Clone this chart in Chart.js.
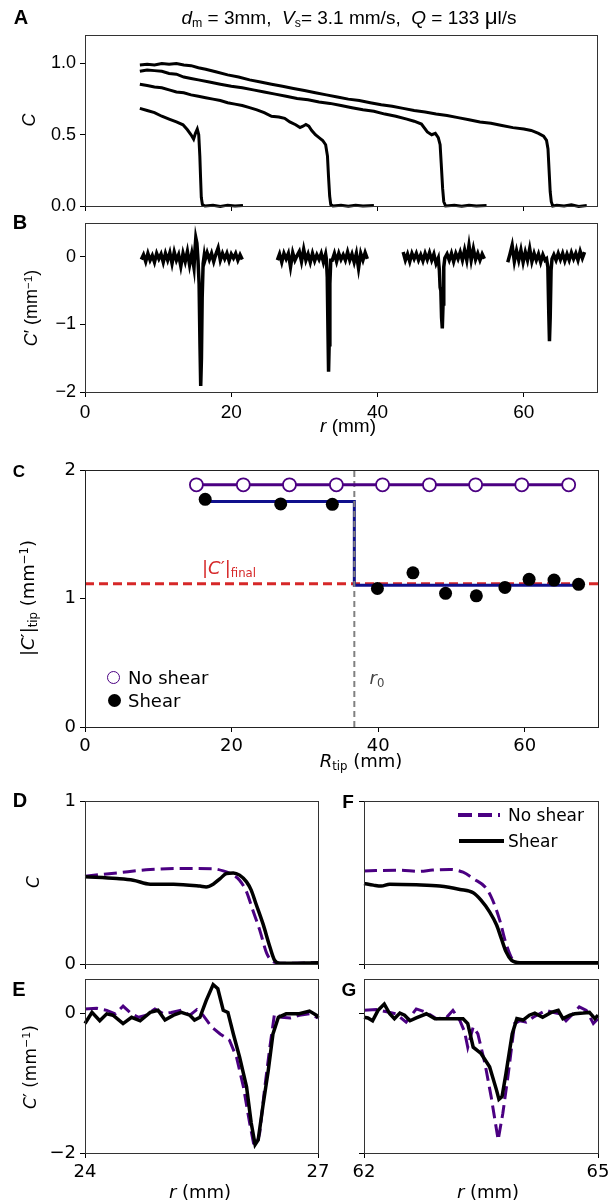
<!DOCTYPE html>
<html>
<head>
<meta charset="utf-8">
<script src="https://cdn.jsdelivr.net/npm/chart.js@4.4.1/dist/chart.umd.min.js"></script>
<style>
  body { margin:0; background:#fff; width:611px; height:1202px; position:relative; overflow:hidden; }
  canvas { position:absolute; }
  .t { position:absolute; white-space:nowrap; line-height:1; transform:translate(-50%,-50%); color:#000; }
  .t.rot { transform:translate(-50%,-50%) rotate(-90deg); }
  .t.left { transform:translate(0,-50%); }
  .arial { font-family:"Liberation Sans", Arial, sans-serif; }
  .dv { font-family:"DejaVu Sans", sans-serif; }
  .lt { font-weight:bold; font-family:"Liberation Sans", Arial, sans-serif; }
  sub { font-size:65%; vertical-align:-0.25em; }
  sup { font-size:65%; vertical-align:0.5em; }
  .swatch { position:absolute; }
</style>
</head>
<body>
<script>
// ---------- data ----------
const rTicks = [0, 20, 40, 60];

// A: C(r) at four times (top trace = latest)
const traceA1 = [[7.5,0.99],[8.5,0.995],[9.5,0.99],[10.5,1.0],[11.5,0.995],[12.5,1.0],[13.5,0.99],[14.5,0.985],[15.5,0.97],[16.5,0.96],[18,0.94],[19.5,0.92],[21,0.905],[22.5,0.885],[24,0.87],[25.5,0.855],[27,0.84],[28.5,0.825],[30,0.81],[31.5,0.795],[33,0.78],[34.5,0.765],[36,0.75],[37.5,0.74],[39,0.725],[40.5,0.71],[42,0.7],[43.5,0.685],[45,0.67],[46.5,0.66],[48,0.645],[49.5,0.635],[51,0.62],[52.5,0.605],[54,0.59],[55.5,0.58],[57,0.565],[58.5,0.55],[60,0.54],[61,0.53],[62,0.51],[62.7,0.49],[63.1,0.46],[63.3,0.4],[63.45,0.25],[63.6,0.1],[63.75,0.03],[63.95,0.0],[64.5,0.005],[65.5,0.0],[66.5,0.008],[67.5,-0.003],[68.6,0.003]];
const traceA2 = [[7.5,0.945],[8.5,0.955],[9.5,0.95],[10.5,0.945],[11.5,0.93],[12.5,0.925],[13.5,0.905],[14.5,0.895],[15.5,0.885],[17,0.87],[18.5,0.855],[20,0.84],[21.5,0.83],[23,0.815],[24.5,0.8],[26,0.785],[27.5,0.77],[29,0.755],[30.5,0.745],[32,0.73],[33.5,0.72],[35,0.705],[36.5,0.69],[38,0.675],[39.5,0.665],[41,0.645],[42.5,0.63],[44,0.61],[45,0.595],[46,0.575],[46.8,0.52],[47.4,0.5],[47.9,0.51],[48.3,0.48],[48.55,0.43],[48.7,0.3],[48.9,0.12],[49.05,0.03],[49.3,0.0],[50.5,0.005],[51.5,-0.002],[52.5,0.006],[53.5,0.0],[54.9,0.003]];
const traceA3 = [[7.5,0.855],[8.5,0.845],[9.5,0.835],[10.5,0.83],[11.5,0.815],[12.5,0.8],[13.5,0.795],[14.5,0.78],[15.5,0.77],[16.5,0.76],[17.5,0.75],[18.5,0.74],[19.5,0.725],[20.5,0.715],[21.5,0.705],[22.5,0.69],[23.5,0.675],[24.5,0.655],[25.5,0.63],[26.5,0.625],[27.3,0.615],[28,0.59],[28.8,0.57],[29.4,0.55],[29.8,0.56],[30.2,0.572],[30.6,0.56],[31,0.53],[31.5,0.5],[32,0.48],[32.5,0.46],[32.9,0.43],[33.15,0.35],[33.3,0.2],[33.45,0.07],[33.6,0.01],[33.9,0.0],[35,0.005],[36,-0.002],[37,0.006],[38,0.0],[39.5,0.003]];
const traceA4 = [[7.5,0.685],[8.5,0.67],[9.5,0.655],[10.5,0.63],[11.5,0.61],[12.5,0.59],[13.4,0.57],[14,0.535],[14.5,0.5],[14.85,0.47],[15.1,0.51],[15.35,0.54],[15.55,0.5],[15.7,0.35],[15.8,0.2],[15.9,0.06],[16.05,0.01],[16.4,0.0],[17.5,0.005],[18.5,-0.003],[19.5,0.006],[20.5,0.0],[21.6,0.004]];

// B: C'(r) segments, sampled every 0.3 mm, front spikes resolved finer
const dB = 0.3;
const bStart = [7.7, 26.3, 43.5, 57.8];
const bNoise1 = [-0.04,0.03,-0.07,0.05,-0.05,0.02,-0.08,0.05,-0.03,0.04,-0.08,0.05,-0.05,0.06,-0.10,0.07,-0.05,0.03,-0.14,0.05,-0.07,0.08,-0.12,0.05,-0.16,0.02,-0.02,0.03,-0.04,-0.05,0.06,-0.04,0.05,-0.07,0.04,0.13,-0.05,0.05,-0.03,0.05,-0.06,0.04,-0.02,0.05,-0.05,0.03,-0.04];
const bNoise2 = [-0.05,0.04,-0.08,0.05,-0.03,0.05,-0.15,0.06,-0.05,0.02,0.08,-0.07,0.11,-0.05,0.04,-0.08,0.05,-0.06,0.03,-0.04,0.05,-0.08,0.04,-0.03,0,-0.05,0.05,-0.07,0.05,-0.04,0.03,-0.05,0.07,-0.05,0.04,-0.08,0.05,-0.17,0.05,-0.05,0.06,-0.03];
const bNoise3 = [0.07,-0.05,0.04,-0.07,0.05,-0.03,0.05,-0.05,0.03,-0.06,0.05,-0.04,0.06,-0.05,0.04,-0.10,0.03,-0.05,-0.05,-0.05,0.04,-0.05,0.05,-0.07,0.05,-0.03,0.07,-0.05,0.10,-0.05,0.17,-0.05,0.12,-0.04,0.05,-0.05,0.04,-0.03];
const bNoise4 = [-0.08,0.04,0.17,-0.07,0.09,-0.05,0.10,-0.08,0.07,-0.05,0.12,-0.07,0.05,-0.05,0.04,-0.08,0.03,-0.05,-0.04,0,-0.05,0.03,-0.05,0.05,-0.04,0.05,-0.06,0.04,-0.05,0.06,-0.03,0.05,-0.05,0.08,-0.02,0.07];
const bSpike1 = [[15.0,0.05],[15.15,0.28],[15.3,0.2],[15.45,-0.05],[15.6,-0.4],[15.72,-1.3],[15.82,-1.91],[15.92,-1.5],[16.02,-0.6],[16.15,-0.1],[16.3,0.02]];
const bSpike2 = [[33.0,-0.03],[33.12,-0.3],[33.22,-1.1],[33.3,-1.70],[33.38,-1.3],[33.48,-0.4],[33.6,-0.05]];
const bSpike3 = [[48.3,-0.02],[48.45,-0.2],[48.55,-0.45],[48.65,-0.5],[48.75,-0.9],[48.85,-1.06],[48.95,-0.7],[49.05,-0.15],[49.2,-0.02]];
const bSpike4 = [[63.1,-0.03],[63.28,-0.15],[63.4,-0.8],[63.5,-1.25],[63.6,-0.9],[63.72,-0.2],[63.85,-0.03]];

// C: |C'| at the tip vs tip position
const noShearR = [15.2, 21.6, 27.9, 34.3, 40.6, 47.0, 53.3, 59.6, 66.0];
const noShearC = [1.885, 1.885, 1.885, 1.885, 1.885, 1.885, 1.885, 1.885, 1.885];
const shearR = [16.4, 26.7, 33.75, 39.9, 44.75, 49.2, 53.4, 57.3, 60.6, 64.0, 67.35];
const shearC = [1.772, 1.736, 1.733, 1.078, 1.2, 1.04, 1.021, 1.086, 1.149, 1.143, 1.11];
const stepR = [16.4, 36.75, 67.4];
const stepC = [1.754, 1.104, 1.104];
const r0 = 36.75;
const cFinal = 1.115;

// D/E: front near r = 25 mm ; F/G: front near r = 63 mm
const dNoShear = [[24.0,0.539],[24.41,0.559],[24.84,0.58],[25.26,0.586],[25.65,0.584],[25.78,0.571],[25.91,0.545],[25.99,0.514],[26.08,0.443],[26.16,0.331],[26.25,0.208],[26.34,0.065],[26.42,0.014],[26.51,0.004],[27.0,0.008]];
const dShear = [[24.0,0.535],[24.41,0.524],[24.62,0.514],[24.84,0.49],[25.14,0.49],[25.48,0.478],[25.56,0.473],[25.65,0.49],[25.74,0.524],[25.82,0.555],[25.91,0.559],[25.99,0.545],[26.08,0.504],[26.14,0.453],[26.2,0.371],[26.29,0.249],[26.38,0.106],[26.44,0.024],[26.51,0.004],[27.0,0.008]];
const eNoShear = [[24.0,0.07],[24.15,0.08],[24.28,0.05],[24.39,0],[24.49,0.11],[24.6,0],[24.69,-0.05],[24.79,-0.02],[24.9,0.07],[25.01,0],[25.11,0.02],[25.24,0.05],[25.35,-0.02],[25.44,0.06],[25.52,-0.02],[25.63,-0.19],[25.74,-0.29],[25.86,-0.38],[25.95,-0.62],[26.04,-1.05],[26.12,-1.57],[26.17,-1.86],[26.21,-1.88],[26.25,-1.71],[26.31,-1.1],[26.38,-0.48],[26.44,0],[26.53,-0.05],[26.64,-0.06],[26.76,-0.02],[26.89,0],[27.0,-0.06]];
const eShear = [[24.0,-0.14],[24.09,0.02],[24.19,-0.1],[24.28,0],[24.36,-0.02],[24.49,-0.14],[24.6,-0.05],[24.71,-0.1],[24.84,0.02],[24.94,0.05],[25.03,-0.09],[25.14,-0.02],[25.24,0.02],[25.35,-0.02],[25.41,-0.09],[25.48,-0.05],[25.56,0.19],[25.65,0.42],[25.71,0.36],[25.78,0.05],[25.84,0.02],[25.91,-0.29],[25.99,-0.62],[26.08,-1.05],[26.14,-1.57],[26.19,-1.88],[26.23,-1.81],[26.29,-1.33],[26.36,-0.81],[26.42,-0.29],[26.49,-0.05],[26.59,0],[26.76,0],[26.89,0.04],[26.98,-0.02],[27.0,-0.06]];
const fNoShear = [[62.0,0.571],[62.46,0.576],[62.7,0.568],[62.88,0.576],[63.1,0.58],[63.27,0.563],[63.4,0.524],[63.57,0.463],[63.65,0.391],[63.74,0.269],[63.82,0.127],[63.91,0.024],[64.0,0.006],[65.0,0.006]];
const fShear = [[62.0,0.494],[62.12,0.484],[62.22,0.478],[62.33,0.49],[62.67,0.486],[62.97,0.478],[63.23,0.457],[63.4,0.437],[63.5,0.392],[63.61,0.32],[63.7,0.239],[63.76,0.157],[63.82,0.076],[63.89,0.024],[64.0,0.008],[65.0,0.008]];
const gNoShear = [[62.0,0.05],[62.16,0.06],[62.29,0.03],[62.41,0],[62.54,-0.12],[62.67,0.07],[62.8,0.02],[62.93,-0.07],[63.06,-0.05],[63.14,0.05],[63.23,-0.1],[63.29,-0.26],[63.33,-0.48],[63.4,-0.19],[63.46,-0.29],[63.55,-0.71],[63.63,-1.19],[63.72,-1.81],[63.78,-1.43],[63.85,-0.86],[63.93,-0.14],[64.0,-0.1],[64.08,-0.12],[64.17,-0.05],[64.25,0],[64.34,0.05],[64.42,0.02],[64.51,0],[64.59,-0.1],[64.68,0],[64.76,0.1],[64.85,0.05],[64.94,-0.14],[65.0,-0.07]];
const gShear = [[62.0,-0.05],[62.05,-0.06],[62.11,-0.1],[62.18,0.05],[62.26,0.14],[62.33,0],[62.39,-0.07],[62.46,0.01],[62.52,-0.02],[62.59,-0.1],[62.67,-0.06],[62.8,0],[62.91,-0.07],[63.14,-0.07],[63.27,-0.07],[63.33,-0.14],[63.4,-0.48],[63.5,-0.57],[63.61,-0.76],[63.7,-1.1],[63.73,-1.23],[63.77,-1.19],[63.82,-0.86],[63.9,-0.29],[63.96,-0.07],[64.04,-0.09],[64.12,-0.02],[64.19,0.01],[64.29,-0.05],[64.4,0.02],[64.49,0.05],[64.55,-0.07],[64.64,-0.02],[64.7,0],[64.81,0.01],[64.89,0.02],[64.96,-0.07],[65.0,-0.02]];

const PURPLE = '#4b0082';
const NAVY = '#10108c';
const RED = '#d62728';

// ---------- helpers ----------
const pairs = arr => arr.map(([x, y]) => ({x, y}));
const zip = (xs, ys) => xs.map((x, i) => ({x, y: ys[i]}));

function mergeSeg(start, vals, spike) {
  const lo = spike[0][0], hi = spike[spike.length - 1][0];
  const pts = vals.map((v, i) => ({x: +(start + i * dB).toFixed(2), y: v}))
                  .filter(p => p.x < lo || p.x > hi);
  spike.forEach(([x, y]) => pts.push({x, y}));
  return pts.sort((a, b) => a.x - b.x);
}

const minusFmt = v => v < 0 ? '\u2212' + Math.abs(v) : String(v);

const framePlugin = {
  id: 'frame',
  afterDatasetsDraw(chart, args, opts) {
    const {ctx, chartArea: a} = chart;
    ctx.save();
    ctx.strokeStyle = opts.color || '#222';
    ctx.lineWidth = 1;
    ctx.strokeRect(Math.round(a.left) + 0.5, Math.round(a.top) + 0.5,
                   Math.round(a.right - a.left), Math.round(a.bottom - a.top));
    ctx.restore();
  }
};
Chart.register(framePlugin);

const PAD_L = 70, PAD_B = 45, PAD_T = 16, PAD_R = 26;

function axis(min, max, ticks, font, showLabels, fmt, isX) {
  return {
    type: 'linear', min, max,
    afterBuildTicks: s => { s.ticks = ticks.map(v => ({value: v})); },
    afterFit: s => { if (isX) s.height = PAD_B; else s.width = PAD_L; },
    grid: { drawOnChartArea: false, drawTicks: true, tickLength: 5, color: '#000', lineWidth: 1 },
    border: { display: false },
    ticks: { display: showLabels, color: '#000', font, padding: 4, maxRotation: 0,
             callback: fmt || (v => String(v)) }
  };
}

// area = [left, top, right, bottom] of the plot box
function panel(area, datasets, xs, ys, frameColor) {
  const c = document.createElement('canvas');
  c.width = area[2] - area[0] + PAD_L + PAD_R;
  c.height = area[3] - area[1] + PAD_T + PAD_B;
  c.style.left = (area[0] - PAD_L) + 'px';
  c.style.top = (area[1] - PAD_T) + 'px';
  document.body.appendChild(c);
  return new Chart(c, {
    type: 'scatter',
    data: { datasets },
    options: {
      responsive: false, animation: false, events: [],
      layout: { padding: { left: 0, top: PAD_T, right: PAD_R, bottom: 0 } },
      plugins: { legend: { display: false }, tooltip: { enabled: false }, frame: { color: frameColor } },
      scales: { x: xs, y: ys }
    }
  });
}

function line(data, color, width, extra) {
  return Object.assign({ data, showLine: true, borderColor: color, borderWidth: width,
    pointRadius: 0, tension: 0, clip: false }, extra || {});
}

function text(html, x, y, cls, size, color) {
  const d = document.createElement('div');
  d.className = 't ' + cls;
  d.innerHTML = html;
  d.style.left = x + 'px';
  d.style.top = y + 'px';
  d.style.fontSize = size + 'px';
  if (color) d.style.color = color;
  document.body.appendChild(d);
}

const arialTick = { family: '"Liberation Sans", Arial, sans-serif', size: 18 };
const dvTickL = { family: '"DejaVu Sans", sans-serif', size: 18 };

// ---------- A ----------
panel([85, 35, 597, 206],
  [traceA1, traceA2, traceA3, traceA4].map(t => line(pairs(t), '#000', 3)),
  axis(0, 70, rTicks, arialTick, false, null, true),
  axis(0, 1.2, [0, 0.5, 1.0], arialTick, true, v => v.toFixed(1), false),
  '#333');

// ---------- B ----------
panel([85, 223, 597, 392],
  [mergeSeg(bStart[0], bNoise1, bSpike1), mergeSeg(bStart[1], bNoise2, bSpike2),
   mergeSeg(bStart[2], bNoise3, bSpike3), mergeSeg(bStart[3], bNoise4, bSpike4)]
    .map(s => line(s, '#000', 3.5)),
  axis(0, 70, rTicks, { family: arialTick.family, size: 19 }, true, null, true),
  axis(-2, 0.5, [-2, -1, 0], arialTick, true, minusFmt, false),
  '#333');

// ---------- C ----------
panel([85, 470, 598, 727],
  [
    { data: zip(shearR, shearC), showLine: false, pointRadius: 6.5, pointBackgroundColor: '#000',
      pointBorderColor: '#000', pointBorderWidth: 0, clip: false },
    line(zip(noShearR, noShearC), PURPLE, 3, { pointRadius: 6.5, pointBackgroundColor: '#fff',
      pointBorderColor: PURPLE, pointBorderWidth: 1.8 }),
    line([{x: r0, y: 0}, {x: r0, y: 2}], '#808080', 2, { borderDash: [6, 4] }),
    line(zip(stepR, stepC), NAVY, 3, { stepped: true }),
    line([{x: 0, y: cFinal}, {x: 70, y: cFinal}], RED, 3, { borderDash: [9, 5] })
  ],
  axis(0, 70, rTicks, dvTickL, true, null, true),
  axis(0, 2, [0, 1, 2], dvTickL, true, null, false),
  '#222');

// ---------- D / E ----------
panel([85, 801, 318, 964],
  [line(pairs(dShear), '#000', 3.5, { cubicInterpolationMode: 'monotone' }),
   line(pairs(dNoShear), PURPLE, 3, { borderDash: [13, 6], cubicInterpolationMode: 'monotone' })],
  axis(24, 27, [24, 27], dvTickL, false, null, true),
  axis(0, 1, [0, 1], dvTickL, true, null, false),
  '#333');
panel([85, 979, 318, 1153],
  [line(pairs(eShear), '#000', 3.5), line(pairs(eNoShear), PURPLE, 3, { borderDash: [13, 6] })],
  axis(24, 27, [24, 27], dvTickL, true, null, true),
  axis(-2, 0.5, [-2, 0], dvTickL, true, minusFmt, false),
  '#333');

// ---------- F / G ----------
panel([364, 801, 598, 964],
  [line(pairs(fShear), '#000', 3.5, { cubicInterpolationMode: 'monotone' }),
   line(pairs(fNoShear), PURPLE, 3, { borderDash: [13, 6], cubicInterpolationMode: 'monotone' })],
  axis(62, 65, [62, 65], dvTickL, false, null, true),
  axis(0, 1, [0, 1], dvTickL, false, null, false),
  '#333');
panel([364, 979, 598, 1153],
  [line(pairs(gShear), '#000', 3.5), line(pairs(gNoShear), PURPLE, 3, { borderDash: [13, 6] })],
  axis(62, 65, [62, 65], dvTickL, true, null, true),
  axis(-2, 0.5, [-2, 0], dvTickL, false, minusFmt, false),
  '#333');

// ---------- text ----------
text('A', 21, 17, 'lt', 20);
text('B', 20, 222, 'lt', 20);
text('C', 19, 471, 'lt', 17);
text('D', 20, 800, 'lt', 20);
text('E', 19, 989, 'lt', 20);
text('F', 348, 801, 'lt', 19);
text('G', 349, 989, 'lt', 19);

text('<i>d</i><sub>m</sub> = 3mm, &nbsp;<i>V</i><sub>s</sub>= 3.1 mm/s, &nbsp;<i>Q</i> = 133 <span style="font-size:118%">μ</span>l/s', 349, 18, 'arial', 19);
text('<i>C</i>', 29, 120, 'arial rot', 18);
text('<i>C</i>′ (mm<sup>−1</sup>)', 31, 308, 'arial rot', 18);
text('<i>r</i> (mm)', 348, 425, 'arial', 19);

text('|<i>C</i>′|<sub>tip</sub> (mm<sup>−1</sup>)', 29, 598, 'dv rot', 18);
text('<i>R</i><sub>tip</sub> (mm)', 361, 762, 'dv', 18);
text('|<i>C</i>′|<sub>final</sub>', 229, 569, 'dv', 18, RED);
text('<i>r</i><sub>0</sub>', 377, 679, 'dv', 18, '#444');
text('No shear', 128, 678, 'dv left', 18);
text('Shear', 128, 701, 'dv left', 18);

text('<i>C</i>', 33, 882, 'dv rot', 17);
text('<i>C</i>′ (mm<sup>−1</sup>)', 30, 1067, 'dv rot', 17);
text('<i>r</i> (mm)', 200, 1192, 'dv', 18);
text('<i>r</i> (mm)', 488, 1192, 'dv', 18);
text('No shear', 508, 815, 'dv left', 17);
text('Shear', 508, 841, 'dv left', 17);

// legend swatches
function swatch(css) {
  const s = document.createElement('div');
  s.className = 'swatch';
  s.style.cssText += css;
  document.body.appendChild(s);
}
swatch('left:107px;top:671px;width:11px;height:11px;border:1.8px solid ' + PURPLE + ';border-radius:50%;background:#fff;');
swatch('left:107.5px;top:694px;width:13px;height:13px;border-radius:50%;background:#000;');
swatch('left:458px;top:813px;width:42px;height:4px;background:repeating-linear-gradient(to right,' + PURPLE + ' 0 14px,transparent 14px 20px);');
swatch('left:459px;top:839px;width:45px;height:4px;background:#000;');
</script>
</body>
</html>
